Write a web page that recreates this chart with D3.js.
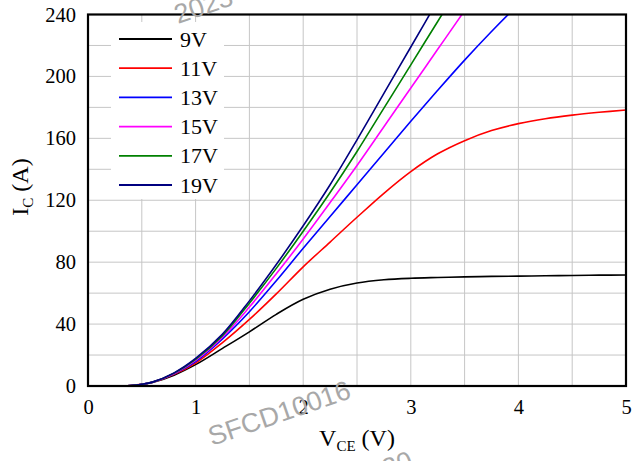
<!DOCTYPE html>
<html><head><meta charset="utf-8">
<script src="https://cdn.jsdelivr.net/npm/d3@7"></script>
<style>html,body{margin:0;padding:0;background:#fff;}svg{display:block;}</style>
</head><body>
<svg id="chart" width="637" height="461"></svg>
<script>
// ---- data ----
const vce = [0, 0.2, 0.3, 0.4, 0.5, 0.6, 0.8, 1.0, 1.25, 1.5, 1.75, 2.0, 2.25, 2.5, 2.75, 3.0, 3.25, 3.5, 3.75, 4.0, 4.25, 4.5, 4.75, 5.0];
const seriesNames = ["9V", "11V", "13V", "15V", "17V", "19V"];
const seriesColors = ["#000000", "#ff0000", "#0000ff", "#ff00ff", "#008000", "#000080"];
const ic9V  = [0, 0, 0.1, 0.35, 1.0, 2.3, 7.0, 13.8, 24.3, 35, 46.3, 56, 62.5, 66.5, 68.6, 69.6, 70.1, 70.5, 70.8, 71.0, 71.2, 71.4, 71.6, 71.7];
const ic11V = [0, 0, 0.1, 0.35, 1.05, 2.4, 7.5, 14.8, 28, 43, 59.5, 77, 93, 109, 124.5, 138.5, 150, 158.5, 165, 169.5, 172.7, 175, 176.8, 178.3];
const ic13V = [0, 0, 0.1, 0.35, 1.1, 2.5, 7.9, 15.8, 30.5, 48, 68, 89, 109.5, 130, 150.5, 171, 191, 210.5, 229, 246.5, 263, 279, 294, 308];
const ic15V = [0, 0, 0.1, 0.35, 1.1, 2.5, 8.1, 16.5, 31.5, 51, 72.5, 95, 118.5, 142.5, 167.5, 192.5, 217.5, 242.5, 267.5, 292, 316, 340, 364, 388];
const ic17V = [0, 0, 0.1, 0.35, 1.1, 2.5, 8.3, 17.2, 32.5, 53.5, 76, 100, 125, 151.5, 179.5, 207.5, 235.5, 263.5, 291.5, 319.5, 347, 375, 403, 431];
const ic19V = [0, 0, 0.1, 0.35, 1.1, 2.5, 8.5, 17.8, 33.5, 55, 78.5, 103.5, 130, 159, 189, 219, 249, 279, 309, 339, 369, 399, 429, 459];
const seriesValues = [ic9V, ic11V, ic13V, ic15V, ic17V, ic19V];
const xTicks = [0, 1, 2, 3, 4, 5];
const yTicks = [0, 40, 80, 120, 160, 200, 240];
const xGrid = [0.5, 1, 1.5, 2, 2.5, 3, 3.5, 4, 4.5];
const yGrid = [20, 40, 60, 80, 100, 120, 140, 160, 180, 200, 220];

// ---- layout ----
const L = 88, R = 626, T = 14.5, B = 386;
const svg = d3.select("#chart");
const x = d3.scaleLinear().domain([0, 5]).range([L, R]);
const y = d3.scaleLinear().domain([0, 240]).range([B, T]);
const serif = "'Liberation Serif','Times New Roman',serif";

// grid
svg.append("g").selectAll("line").data(xGrid).join("line")
  .attr("x1", d => x(d)).attr("x2", d => x(d)).attr("y1", T).attr("y2", B)
  .attr("stroke", "#c6c6c6").attr("stroke-width", 1);
svg.append("g").selectAll("line").data(yGrid).join("line")
  .attr("x1", L).attr("x2", R).attr("y1", d => y(d)).attr("y2", d => y(d))
  .attr("stroke", "#c6c6c6").attr("stroke-width", 1);

// legend background (hides grid)
const legX = 111, legY = 22;
svg.append("rect").attr("x", legX).attr("y", legY).attr("width", 113).attr("height", 177).attr("fill", "#fff");

// clip
svg.append("clipPath").attr("id", "clip").append("rect")
  .attr("x", L).attr("y", T).attr("width", R - L).attr("height", B - T);

const line = d3.line().x(d => x(d[0])).y(d => y(d[1])).curve(d3.curveCatmullRom.alpha(0.5));
svg.append("g").attr("clip-path", "url(#clip)").selectAll("path")
  .data(seriesValues).join("path")
  .attr("d", vals => line(vce.map((v, i) => [v, vals[i]])))
  .attr("fill", "none").attr("stroke", (d, i) => seriesColors[i]).attr("stroke-width", 1.6);

// axes
const xAxis = d3.axisBottom(x).tickValues(xTicks).tickSize(0).tickPadding(13).tickFormat(d3.format("d"));
const gx = svg.append("g").attr("transform", `translate(0,${B})`).call(xAxis);
gx.select(".domain").remove();
gx.selectAll("text").attr("font-family", serif).attr("font-size", 20.5).attr("fill", "#000");
const yAxis = d3.axisLeft(y).tickValues(yTicks).tickSize(0).tickPadding(12).tickFormat(d3.format("d"));
const gy = svg.append("g").attr("transform", `translate(${L},0)`).call(yAxis);
gy.select(".domain").remove();
gy.selectAll("text").attr("font-family", serif).attr("font-size", 20.5).attr("fill", "#000");

// frame
svg.append("rect").attr("x", L).attr("y", T).attr("width", R - L).attr("height", B - T)
  .attr("fill", "none").attr("stroke", "#000").attr("stroke-width", 2.2);

// legend
const leg = svg.append("g");
seriesNames.forEach((n, i) => {
  const ly = 39 + i * 29.2;
  leg.append("line").attr("x1", 119).attr("x2", 172).attr("y1", ly).attr("y2", ly)
    .attr("stroke", seriesColors[i]).attr("stroke-width", 1.8);
  leg.append("text").attr("x", 180).attr("y", ly + 7.5).text(n)
    .attr("font-family", serif).attr("font-size", 22).attr("fill", "#000");
});

// axis titles
const xt = svg.append("text").attr("x", 357).attr("y", 446).attr("text-anchor", "middle")
  .attr("font-family", serif).attr("font-size", 24).attr("fill", "#000");
xt.append("tspan").text("V");
xt.append("tspan").text("CE").attr("font-size", 15).attr("dy", 5);
xt.append("tspan").text(" (V)").attr("dy", -5);

const yt = svg.append("text").attr("transform", "translate(28,187) rotate(-90)").attr("text-anchor", "middle")
  .attr("font-family", serif).attr("font-size", 24).attr("fill", "#000");
yt.append("tspan").text("I");
yt.append("tspan").text("C").attr("font-size", 15).attr("dy", 5);
yt.append("tspan").text(" (A)").attr("dy", -5);

// watermark
const wm = "'Liberation Sans',Arial,sans-serif";
svg.append("text").attr("transform", "translate(212,446) rotate(-19)").text("SFCD10016")
  .attr("font-family", wm).attr("font-size", 27).attr("fill", "#a8a8a8");
svg.append("text").attr("transform", "translate(178,24) rotate(-19)").text("2023")
  .attr("font-family", wm).attr("font-size", 27).attr("fill", "#a8a8a8");
svg.append("text").attr("transform", "translate(386,478) rotate(-19)").text("20")
  .attr("font-family", wm).attr("font-size", 27).attr("fill", "#a8a8a8");
</script>
</body></html>
